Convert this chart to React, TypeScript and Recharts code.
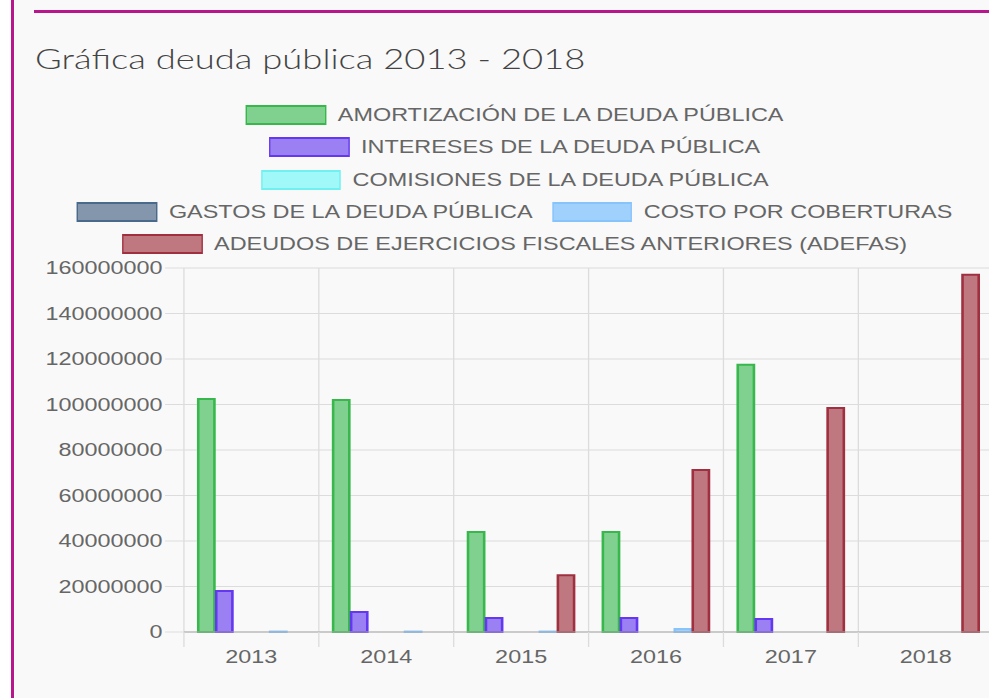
import { Bar, BarChart, CartesianGrid, XAxis, YAxis } from "recharts";

const years = ["2013", "2014", "2015", "2016", "2017", "2018"];
const amortizacion = [102400000, 102000000, 44000000, 44000000, 117500000, 0];
const intereses = [18000000, 8800000, 6200000, 6200000, 5700000, 0];
const comisiones = [0, 0, 0, 0, 0, 0];
const gastos = [0, 0, 0, 0, 0, 0];
const coberturas = [200000, 200000, 200000, 1300000, 0, 0];
const adefas = [0, 0, 25000000, 71200000, 98500000, 157000000];
const yTicks = [0, 20000000, 40000000, 60000000, 80000000, 100000000, 120000000, 140000000, 160000000];

const series = [
  { key: "amortizacion", name: "AMORTIZACIÓN DE LA DEUDA PÚBLICA", values: amortizacion, fill: "#80d08f", stroke: "#38b84c" },
  { key: "intereses", name: "INTERESES DE LA DEUDA PÚBLICA", values: intereses, fill: "#9a80f2", stroke: "#6438f0" },
  { key: "comisiones", name: "COMISIONES DE LA DEUDA PÚBLICA", values: comisiones, fill: "#a0f8f8", stroke: "#70f0f0" },
  { key: "gastos", name: "GASTOS DE LA DEUDA PÚBLICA", values: gastos, fill: "#8496ac", stroke: "#4a6a8c" },
  { key: "coberturas", name: "COSTO POR COBERTURAS", values: coberturas, fill: "#a0d0fc", stroke: "#88c4fc" },
  { key: "adefas", name: "ADEUDOS DE EJERCICIOS FISCALES ANTERIORES (ADEFAS)", values: adefas, fill: "#c07880", stroke: "#a03040" },
];

// which legend entries share a line
const legendRows = [[0], [1], [2], [3, 4], [5]];

const data = years.map((year, i) => {
  const row: Record<string, string | number> = { year };
  series.forEach((s) => {
    row[s.key] = s.values[i];
  });
  return row;
});

// the screenshot is stretched sideways, so the chart is drawn narrow and widened
const S = 1.3;
const INNER_W = 989 / S;
const CHART_W = 766;
const CHART_H = 448;
const Y_AXIS_W = 141.5;
const MARGIN = { top: 18, right: 2, left: 0, bottom: 0 };
const BAND = (CHART_W - MARGIN.left - MARGIN.right - Y_AXIS_W) / years.length;
const FONT = "'Liberation Sans', Arial, Helvetica, sans-serif";
const GRID = "#dcdcdc";

function YearTick(props: any) {
  const { x, y, payload } = props;
  return (
    <g>
      <line x1={x - BAND / 2} x2={x - BAND / 2} y1={y} y2={y + 15} stroke={GRID} />
      <text x={x} y={y + 31} textAnchor="middle" fill="#666" fontSize={18} fontFamily={FONT}>
        {payload.value}
      </text>
    </g>
  );
}

function Legend() {
  return (
    <div style={{ position: "absolute", left: 0, top: 105, width: 792 }}>
      {legendRows.map((row, r) => (
        <div
          key={r}
          style={{
            position: "absolute",
            top: r * 32.25,
            left: 0,
            width: "100%",
            height: 20,
            display: "flex",
            justifyContent: "center",
            alignItems: "center",
          }}
        >
          {row.map((idx, j) => {
            const s = series[idx];
            return (
              <div key={s.key} style={{ display: "flex", alignItems: "center", marginLeft: j > 0 ? 15 : 0 }}>
                <span
                  style={{
                    display: "inline-block",
                    boxSizing: "border-box",
                    width: 61.5,
                    height: 20,
                    background: s.fill,
                    borderStyle: "solid",
                    borderColor: s.stroke,
                    borderWidth: "2px 1.5px",
                  }}
                />
                <span style={{ marginLeft: 9, fontSize: 18, lineHeight: "20px", color: "#666", fontFamily: FONT, whiteSpace: "nowrap" }}>
                  {s.name}
                </span>
              </div>
            );
          })}
        </div>
      ))}
    </div>
  );
}

export default function App() {
  return (
    <div style={{ position: "absolute", left: 0, top: 0, width: 989, height: 698, background: "#fff", overflow: "hidden" }}>
      <div style={{ position: "absolute", left: 15, top: 0, right: 0, bottom: 0, background: "#f9f9f9" }} />
      <div style={{ position: "absolute", left: 11, top: 0, width: 3, height: 698, background: "#b8168c" }} />
      <div style={{ position: "absolute", left: 34, top: 10, right: 0, height: 3, background: "#b8168c" }} />
      <div
        style={{
          position: "absolute",
          left: 0,
          top: 0,
          width: INNER_W,
          height: 698,
          transform: `scaleX(${S})`,
          transformOrigin: "0 0",
        }}
      >
        <div
          style={{
            position: "absolute",
            left: 27,
            top: 44,
            fontFamily: "Lato, 'Open Sans', sans-serif",
            fontWeight: 300,
            fontSize: 28,
            lineHeight: "28px",
            color: "#444",
            whiteSpace: "nowrap",
          }}
        >
          Gráfica deuda pública 2013 - 2018
        </div>
        <Legend />
        <div style={{ position: "absolute", left: 0, top: 250 }}>
          <BarChart width={CHART_W} height={CHART_H} data={data} margin={MARGIN} barSize={12.45} barGap={1.38}>
            <CartesianGrid
              stroke={GRID}
              verticalCoordinatesGenerator={({ offset }: any) =>
                years.map((_, i) => offset.left + (i * offset.width) / years.length)
              }
            />
            <XAxis
              dataKey="year"
              height={CHART_H - MARGIN.top - MARGIN.bottom - 364}
              tickLine={false}
              tickSize={0}
              tickMargin={0}
              axisLine={{ stroke: "#aaa" }}
              tick={<YearTick />}
              interval={0}
            />
            <YAxis
              width={Y_AXIS_W}
              domain={[0, 160000000]}
              ticks={yTicks}
              interval={0}
              axisLine={false}
              tickLine={{ stroke: GRID }}
              tickSize={14.5}
              tickMargin={2}
              tick={{ fill: "#666", fontSize: 18, fontFamily: FONT }}
            />
            {series.map((s) => (
              <Bar
                key={s.key}
                dataKey={s.key}
                name={s.name}
                fill={s.fill}
                stroke={s.stroke}
                strokeWidth={2}
                isAnimationActive={false}
              />
            ))}
          </BarChart>
        </div>
      </div>
    </div>
  );
}
